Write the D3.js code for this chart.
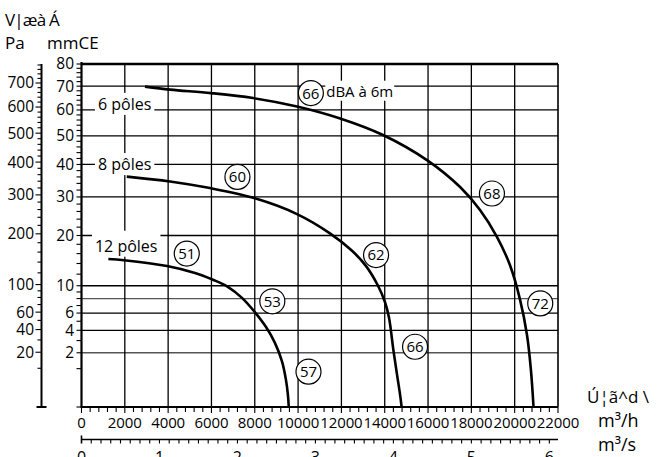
<!DOCTYPE html>
<html>
<head>
<meta charset="utf-8">
<script src="https://cdn.jsdelivr.net/npm/d3@7"></script>
<style>
  html, body { margin: 0; padding: 0; background: #fff; }
  svg { display: block; font-family: "Open Sans", "Noto Sans", sans-serif; }
</style>
</head>
<body>
<svg id="chart" width="658" height="457"></svg>
<script>
// Flow ticks (m³/h) and secondary flow ticks (m³/s)
const flowTicks = [0, 2000, 4000, 6000, 8000, 10000, 12000, 14000, 16000, 18000, 20000, 22000];
const flowSecTicks = [0, 1, 2, 3, 4, 5, 6];
// Pressure grid (mmCE) and labelled values
const mmGrid = [2, 4, 6, 8, 10, 20, 30, 40, 50, 60, 70];
const mmLabels = [2, 4, 6, 10, 20, 30, 40, 50, 60, 70, 80];
const paLabels = [20, 40, 60, 100, 200, 300, 400, 500, 600, 700];

// Fan curves: flow (m³/h) vs pressure (mmCE)
const q6 = [2930, 4090, 5980, 7920, 9950, 11940, 13920, 16000, 17480, 18400, 19180, 19780, 20250, 20570, 20750, 20870];
const p6 = [69.8, 68.5, 67.0, 64.9, 61.4, 56.6, 50.3, 41.2, 32.9, 26.4, 19.7, 13.7, 7.8, 3.5, 0.93, 0];
const q8 = [2090, 4090, 5930, 8010, 9950, 11470, 12490, 13140, 13690, 14010, 14200, 14400, 14570, 14710, 14780];
const p8 = [36.1, 34.6, 32.6, 29.6, 25.3, 20.5, 16.6, 13.5, 10.0, 7.5, 5.4, 2.2, 0.7, 0.1, 0];
const q12 = [1240, 1960, 3950, 5240, 6070, 6720, 7410, 8010, 8520, 8930, 9260, 9440, 9530, 9570];
const p12 = [14.9, 14.65, 13.5, 12.2, 11.0, 9.9, 8.1, 6.1, 4.35, 2.8, 1.4, 0.5, 0.1, 0];

// Sound levels (dBA at 6 m) shown in circles
const dbValues = ["66", "60", "68", "51", "53", "57", "62", "66", "72"];
const dbFlow = [10590, 7200, 18950, 4860, 8810, 10480, 13600, 15400, 21180];
const dbPress = [67.0, 36.0, 31.0, 16.0, 7.6, 0.85, 15.7, 2.47, 7.3];

// Curve names
const poleNames = ["6 pôles", "8 pôles", "12 pôles"];
const poleFlow = [760, 760, 620];
const polePress = [62.3, 40.0, 17.6];

const PA_PER_MM = 9.80665;

const svg = d3.select("#chart");
const x = d3.scaleLinear().domain([0, 22000]).range([81.5, 558]);
const xs = d3.scaleLinear().domain([0, 22000 / 3600]).range([81.5, 558]);
const y = d3.scaleSqrt().domain([0, 80]).range([407, 64]);
const yPa = d3.scaleSqrt().domain([0, 80 * PA_PER_MM]).range([407, 64]);

const x0 = x(0), x1 = x(22000), yTop = y(80), yBot = y(0);

// Grid
const grid = svg.append("g");
grid.selectAll("line.h").data(mmGrid).join("line")
  .attr("x1", x0).attr("x2", x1)
  .attr("y1", d => y(d)).attr("y2", d => y(d))
  .attr("stroke", d => (d === 8 || d === 2) ? "#555" : "#000")
  .attr("stroke-width", 1.3);
grid.selectAll("line.v").data(flowTicks.slice(1, -1)).join("line")
  .attr("x1", d => x(d)).attr("x2", d => x(d))
  .attr("y1", yTop).attr("y2", yBot)
  .attr("stroke", "#000").attr("stroke-width", 1.3);

// Frame
svg.append("line").attr("x1", x0).attr("x2", x1).attr("y1", yTop).attr("y2", yTop)
  .attr("stroke", "#000").attr("stroke-width", 2.6);
svg.append("line").attr("x1", x1).attr("x2", x1).attr("y1", yTop).attr("y2", yBot)
  .attr("stroke", "#000").attr("stroke-width", 1.6);
svg.append("line").attr("x1", x0).attr("x2", x0).attr("y1", yTop - 2).attr("y2", yBot)
  .attr("stroke", "#000").attr("stroke-width", 2.2);
svg.append("line").attr("x1", x0 - 1).attr("x2", x1).attr("y1", yBot).attr("y2", yBot)
  .attr("stroke", "#000").attr("stroke-width", 2.2);

// mmCE axis minor ticks and labels
const mmMinor = d3.range(0, 10, 1).concat(d3.range(10, 81, 2));
svg.append("g").selectAll("line").data(mmMinor).join("line")
  .attr("x1", x0 - 5).attr("x2", x0)
  .attr("y1", d => y(d)).attr("y2", d => y(d))
  .attr("stroke", "#000").attr("stroke-width", 1.1);
svg.append("g").selectAll("text").data(mmLabels).join("text")
  .attr("x", 74).attr("y", d => y(d)).attr("dy", "0.35em")
  .attr("text-anchor", "end").attr("font-size", 15.5)
  .text(d => d);

// Pa axis
const xPa = 41.5;
svg.append("line").attr("x1", xPa).attr("x2", xPa).attr("y1", yTop).attr("y2", yBot)
  .attr("stroke", "#000").attr("stroke-width", 2);
svg.append("line").attr("x1", xPa - 5).attr("x2", xPa + 5).attr("y1", yBot).attr("y2", yBot)
  .attr("stroke", "#000").attr("stroke-width", 2);
const paMinor = d3.range(10, 100, 10).concat(d3.range(100, 781, 20));
svg.append("g").selectAll("line").data(paMinor).join("line")
  .attr("x1", d => paLabels.includes(d) ? xPa - 6 : xPa - 4).attr("x2", xPa)
  .attr("y1", d => yPa(d)).attr("y2", d => yPa(d))
  .attr("stroke", "#000").attr("stroke-width", 1.1);
svg.append("g").selectAll("text").data(paLabels).join("text")
  .attr("x", 34).attr("y", d => yPa(d)).attr("dy", "0.35em")
  .attr("text-anchor", "end").attr("font-size", 15.5)
  .text(d => d);

// Flow axis (m³/h)
svg.append("g").selectAll("line").data(d3.range(0, 22001, 400)).join("line")
  .attr("x1", d => x(d)).attr("x2", d => x(d))
  .attr("y1", yBot).attr("y2", d => d % 2000 === 0 ? yBot + 6 : yBot + 5)
  .attr("stroke", "#000").attr("stroke-width", 1.1);
svg.append("g").selectAll("text").data(flowTicks).join("text")
  .attr("x", d => x(d)).attr("y", 428)
  .attr("text-anchor", "middle").attr("font-size", 15)
  .attr("letter-spacing", -0.1)
  .text(d => d);

// Flow axis (m³/s)
const ySec = 439.5;
svg.append("line").attr("x1", xs(0)).attr("x2", x1).attr("y1", ySec).attr("y2", ySec)
  .attr("stroke", "#000").attr("stroke-width", 1.6);
svg.append("line").attr("x1", xs(0)).attr("x2", xs(0)).attr("y1", ySec - 4).attr("y2", ySec + 4)
  .attr("stroke", "#000").attr("stroke-width", 1.6);
svg.append("g").selectAll("line").data(d3.range(0.125, 22000 / 3600, 0.125)).join("line")
  .attr("x1", d => xs(d)).attr("x2", d => xs(d))
  .attr("y1", ySec).attr("y2", ySec + 4)
  .attr("stroke", "#000").attr("stroke-width", 1.1);
svg.append("g").selectAll("text").data(flowSecTicks).join("text")
  .attr("x", d => xs(d)).attr("y", 463)
  .attr("text-anchor", "middle").attr("font-size", 16)
  .text(d => d);

// White-backed label helper
function boxedText(g, tx, ty, str, size, padX, padTop, padBottom) {
  const t = g.append("text").attr("x", tx).attr("y", ty).attr("dy", "0.35em")
    .attr("text-anchor", "start").attr("font-size", size).text(str);
  const b = t.node().getBBox();
  g.insert("rect", "text").attr("x", b.x - padX).attr("y", b.y - padTop)
    .attr("width", b.width + 2 * padX).attr("height", b.height + padTop + padBottom)
    .attr("fill", "#fff");
  return t;
}

// Curve name labels
poleNames.forEach((n, i) => {
  boxedText(svg.append("g"), x(poleFlow[i]), y(polePress[i]), n, 16, 3, i === 2 ? 4 : 0, 0);
});

// dBA label
boxedText(svg.append("g"), x(11300), y(67.7), "dBA à 6m", 15, 1, 0, 0);

// Fan curves
const line = d3.line().x(d => x(d[0])).y(d => y(d[1])).curve(d3.curveCatmullRom.alpha(0.5));
[[q6, p6], [q8, p8], [q12, p12]].forEach(([q, p]) => {
  svg.append("path").datum(d3.zip(q, p))
    .attr("d", line).attr("fill", "none")
    .attr("stroke", "#000").attr("stroke-width", 2.6);
});

// Sound level circles
const circ = svg.append("g").selectAll("g").data(dbValues).join("g")
  .attr("transform", (d, i) => `translate(${x(dbFlow[i])},${y(dbPress[i])})`);
circ.append("circle").attr("r", 12.5).attr("fill", "#fff")
  .attr("stroke", "#000").attr("stroke-width", 1.2);
circ.append("text").attr("text-anchor", "middle").attr("dy", "0.36em")
  .attr("font-size", 15).text(d => d);

// Axis titles
svg.append("text").attr("x", 5).attr("y", 26).attr("font-size", 17)
  .attr("letter-spacing", -0.8).text("V|æà Á");
svg.append("text").attr("x", 5).attr("y", 49).attr("font-size", 17).text("Pa");
svg.append("text").attr("x", 47).attr("y", 49).attr("font-size", 17).text("mmCE");
svg.append("text").attr("x", 587).attr("y", 403).attr("font-size", 17).text("Ú¦ã^d \\");
svg.append("text").attr("x", 598).attr("y", 427).attr("font-size", 18).text("m³/h");
svg.append("text").attr("x", 598).attr("y", 451).attr("font-size", 18).text("m³/s");
</script>
</body>
</html>
